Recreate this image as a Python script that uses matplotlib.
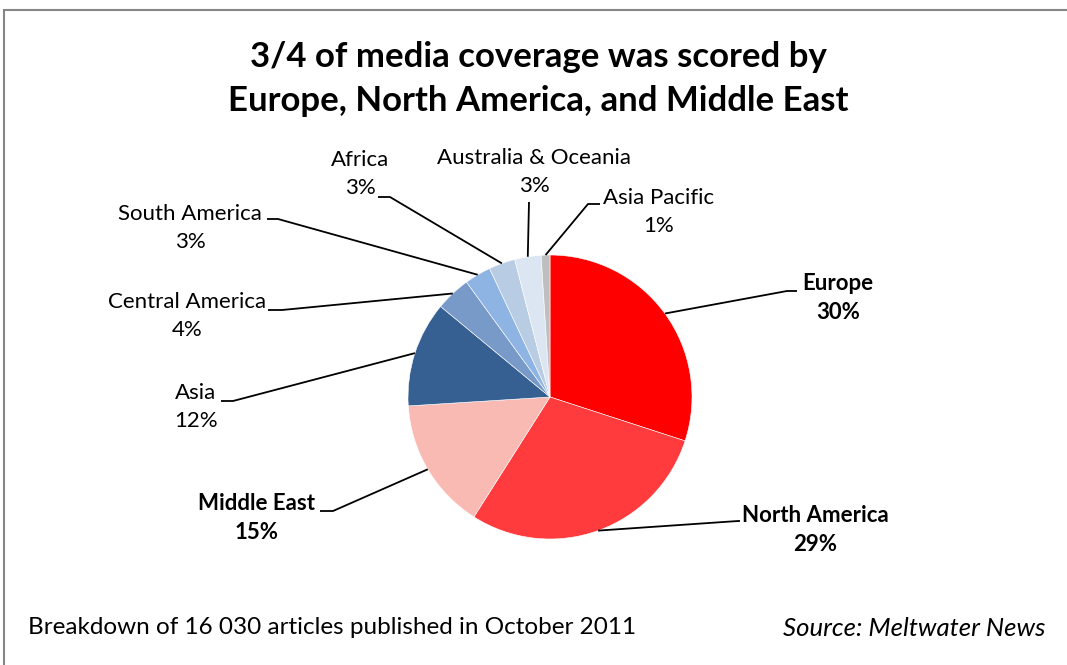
import numpy as np
import matplotlib
matplotlib.use("Agg")
import matplotlib.pyplot as plt
from matplotlib.patches import Rectangle

regions = ["Europe", "North America", "Middle East", "Asia", "Central America",
           "South America", "Africa", "Australia & Oceania", "Asia Pacific"]
shares = [30, 29, 15, 12, 4, 3, 3, 3, 1]
bold = [True, True, True, False, False, False, False, False, False]
colors = ["#FF0000", "#FF3B3D", "#F9BAB4", "#366092", "#779AC8",
          "#8EB4E3", "#B8CCE4", "#DCE6F2", "#BFBFBF"]
title = "3/4 of media coverage was scored by\nEurope, North America, and Middle East"
footnote = "Breakdown of 16 030 articles published in October 2011"
source = "Source: Meltwater News"

W, H = 1067, 665
plt.rcParams['font.family'] = ['Lato', 'DejaVu Sans']
fig = plt.figure(figsize=(W / 100, H / 100), dpi=100)
ax = fig.add_axes([0, 0, 1, 1])
ax.set_xlim(0, W)
ax.set_ylim(0, H)
ax.set_aspect('equal')
ax.axis('off')

def Y(y):
    return H - y

# frame
ax.add_patch(Rectangle((4, Y(700)), 1100, 690, fill=False, edgecolor="#868686", lw=1.5))

cx, cy, r = 550, 397, 142
wedges, _ = ax.pie(shares, colors=colors, startangle=90, counterclock=False,
                   center=(cx, Y(cy)), radius=r,
                   wedgeprops=dict(linewidth=0.4, edgecolor="white"))
ax.set_xlim(0, W)
ax.set_ylim(0, H)

# label layout: text center, elbow point, horizontal end
layout = {
    "Europe":              ((838, 298), (787, 291), (797, 291)),
    "North America":       ((815, 530), (738, 521), (740, 521)),
    "Middle East":         ((257, 518), (333, 511), (320, 511)),
    "Asia":                ((196, 407), (233, 401), (221, 401)),
    "Central America":     ((187, 316), (282, 310), (268, 310)),
    "South America":       ((190, 228), (278, 219), (267, 219)),
    "Africa":              ((360, 174), (390, 197), (378, 197)),
    "Australia & Oceania": ((534, 172), (529, 202), (529, 202)),
    "Asia Pacific":        ((659, 212), (588, 204), (600, 204)),
}

total = sum(shares)
cum = 0
for name, val, b in zip(regions, shares, bold):
    mid = cum + val / 2
    cum += val
    ang = np.deg2rad(90 - 360 * mid / total)
    ex, ey = cx + r * np.cos(ang), cy - r * np.sin(ang)
    (tx, ty), (bx, by), (hx, hy) = layout[name]
    ax.plot([ex, bx, hx], [Y(ey), Y(by), Y(hy)], color="black", lw=1.3,
            solid_capstyle='butt')
    ax.text(tx, Y(ty), f"{name}\n{val}%", ha="center", va="center",
            fontsize=16, fontweight="bold" if b else "normal",
            linespacing=1.45, color="black")

ax.text(538, Y(79), title, ha="center", va="center", fontsize=25,
        fontweight="bold", linespacing=1.45)
ax.text(28, Y(628), footnote, ha="left", va="center", fontsize=17.5)
ax.text(1045, Y(628), source, ha="right", va="center", fontsize=18.5, style="italic")

fig.savefig("out.png", dpi=100)
